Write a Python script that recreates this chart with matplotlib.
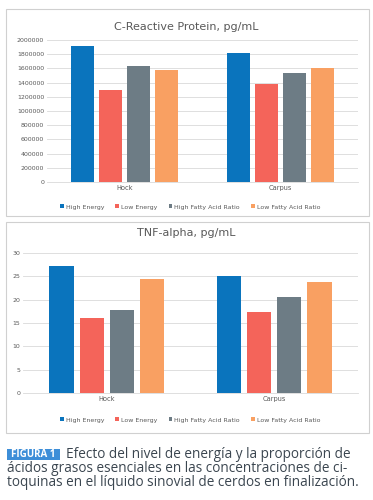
import matplotlib.pyplot as plt
from matplotlib.patches import Rectangle
import numpy as np

categories = ["Hock", "Carpus"]
series_names = ["High Energy", "Low Energy", "High Fatty Acid Ratio", "Low Fatty Acid Ratio"]
colors = ["#0a74bd", "#f4645a", "#6d7c85", "#f9a062"]

crp_values = [
    [1920000, 1820000],
    [1300000, 1380000],
    [1630000, 1540000],
    [1580000, 1610000],
]
tnf_values = [
    [27.3, 25.1],
    [16.0, 17.3],
    [17.8, 20.6],
    [24.5, 23.8],
]
crp_ticks = list(range(0, 2000001, 200000))
tnf_ticks = [0, 5, 10, 15, 20, 25, 30]

W, H = 373, 500
fig = plt.figure(figsize=(W / 100, H / 100), dpi=100)
fig.patch.set_facecolor("white")


def px(x0, y0, x1, y1):
    # pixel box (top-left origin) -> figure rect
    return [x0 / W, 1 - y1 / H, (x1 - x0) / W, (y1 - y0) / H]


def panel(rect_px, ax_px, values, ticks, ymax, title, title_y, legend_y):
    x0, y0, x1, y1 = rect_px
    fig.patches.append(Rectangle((x0 / W, 1 - y1 / H), (x1 - x0) / W, (y1 - y0) / H,
                                 transform=fig.transFigure, fill=False,
                                 edgecolor="#d0d0d0", linewidth=0.8))
    ax = fig.add_axes(px(*ax_px))
    x = np.arange(len(categories))
    width = 0.145
    stride = 0.18
    for i, (name, vals) in enumerate(zip(series_names, values)):
        ax.bar(x + (i - 1.5) * stride, vals, width, color=colors[i], label=name, zorder=3)
    ax.set_xlim(-0.5, 1.5)
    ax.set_ylim(0, ymax)
    ax.set_yticks(ticks)
    ax.set_yticklabels([str(t) for t in ticks], fontsize=4.5, color="#595959")
    ax.set_xticks(x)
    ax.set_xticklabels(categories, fontsize=4.8, color="#595959")
    ax.tick_params(length=0, pad=2)
    ax.grid(axis="y", color="#d9d9d9", linewidth=0.6, zorder=0)
    for s in ["top", "right", "left"]:
        ax.spines[s].set_visible(False)
    ax.spines["bottom"].set_color("#d9d9d9")
    ax.spines["bottom"].set_linewidth(0.6)
    fig.text(0.5, 1 - title_y / H, title, ha="center", va="center",
             fontsize=8, color="#595959")
    fig.legend(*ax.get_legend_handles_labels(), loc="center",
               bbox_to_anchor=(0.51, 1 - legend_y / H), ncol=4, frameon=False,
               fontsize=4.5, handlelength=0.6, handleheight=0.6, columnspacing=1.8,
               handletextpad=0.3, labelcolor="#595959")
    return ax


panel((6, 9, 369, 216), (47, 40, 358, 182), crp_values, crp_ticks, 2000000,
      "C-Reactive Protein, pg/mL", 27, 207)
panel((6, 222, 369, 433), (23, 253, 358, 393), tnf_values, tnf_ticks, 30,
      "TNF-alpha, pg/mL", 233, 420)

# caption
cap_color = "#3b4650"
fig.patches.append(Rectangle((7 / W, 1 - 460 / H), 53 / W, 11 / H,
                             transform=fig.transFigure, facecolor="#3d8ed8",
                             edgecolor="none"))
fig.text(33.5 / W, 1 - 454.5 / H, "FIGURA 1", fontsize=7, color="white",
         ha="center", va="center", family="Open Sans", fontweight="bold")
fig.text(66 / W, 1 - 454 / H, "Efecto del nivel de energía y la proporción de",
         fontsize=9.8, color=cap_color, va="center", family="Open Sans")
fig.text(7 / W, 1 - 468 / H, "ácidos grasos esenciales en las concentraciones de ci-",
         fontsize=9.8, color=cap_color, va="center", family="Open Sans")
fig.text(7 / W, 1 - 482 / H, "toquinas en el líquido sinovial de cerdos en finalización.",
         fontsize=9.8, color=cap_color, va="center", family="Open Sans")

fig.savefig("out.png", dpi=100)
